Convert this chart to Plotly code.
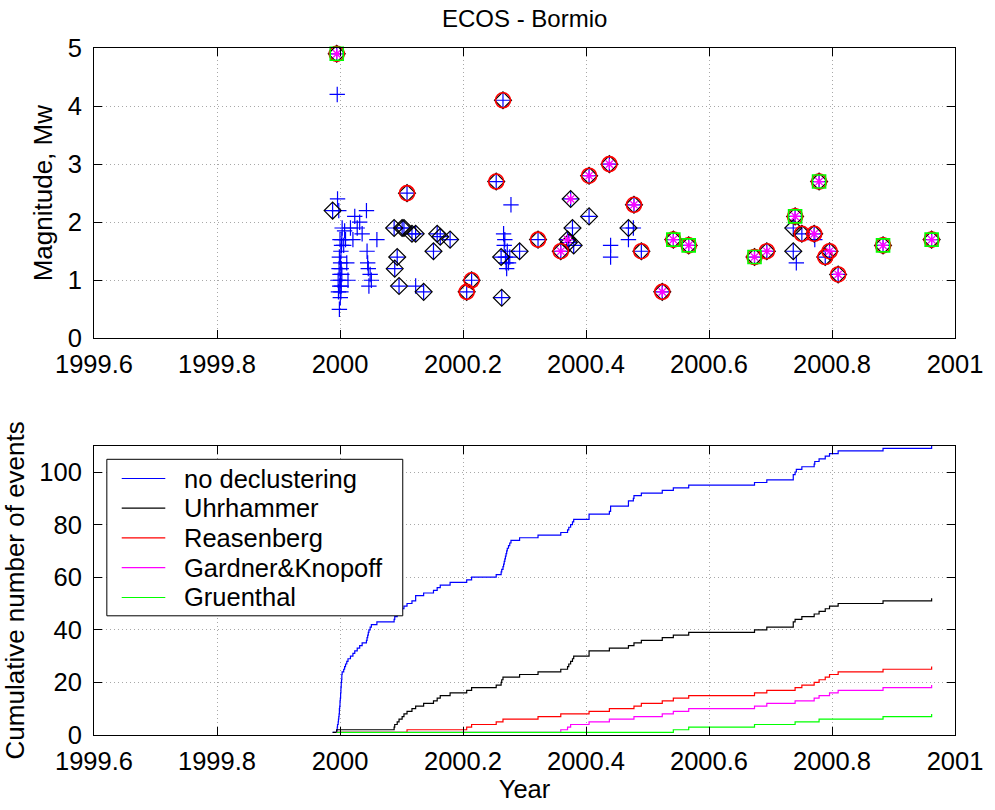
import plotly.graph_objects as go

# ---- earthquake catalogue (decimal year, moment magnitude) ----
year = [
    1999.988, 1999.9947, 1999.9955, 1999.996, 1999.997, 1999.9975, 1999.998, 1999.9985,
    1999.999, 1999.999, 1999.9995, 2000.000, 2000.000, 2000.0005, 2000.001, 2000.001,
    2000.0015, 2000.0015, 2000.002, 2000.002, 2000.0025, 2000.003, 2000.003, 2000.0035,
    2000.006, 2000.0075, 2000.009, 2000.011, 2000.013, 2000.017, 2000.021, 2000.024,
    2000.028, 2000.032, 2000.036, 2000.043, 2000.044, 2000.045, 2000.046, 2000.047,
    2000.049, 2000.051, 2000.060,
    2000.088, 2000.089, 2000.093, 2000.096, 2000.101, 2000.104, 2000.109, 2000.117,
    2000.123, 2000.123, 2000.136, 2000.152, 2000.158, 2000.163, 2000.179, 2000.206,
    2000.214, 2000.254, 2000.262, 2000.263, 2000.265,
    2000.266, 2000.267, 2000.268, 2000.269, 2000.270, 2000.271, 2000.272, 2000.274,
    2000.276, 2000.278,
    2000.292, 2000.322, 2000.359, 2000.370, 2000.372, 2000.375, 2000.378, 2000.380,
    2000.405, 2000.405, 2000.438, 2000.440, 2000.440, 2000.469, 2000.469, 2000.477,
    2000.478, 2000.490, 2000.524, 2000.542, 2000.567, 2000.674, 2000.694, 2000.737,
    2000.737, 2000.740, 2000.742, 2000.751, 2000.771, 2000.772, 2000.779, 2000.789,
    2000.796, 2000.810, 2000.883, 2000.962,
]
mag = [
    2.2, 4.9, 4.2, 2.4, 1.0, 0.8, 2.2, 1.2,
    0.5, 1.4, 0.9, 1.7, 1.1, 0.7, 1.3, 1.0,
    0.8, 1.5, 1.2, 0.9, 1.6, 1.1, 1.7, 1.9,
    1.6, 1.85, 1.7, 1.3, 1.0, 1.9, 1.7, 2.1,
    1.9, 2.0, 1.8, 2.2, 1.5, 1.3, 1.2, 0.9,
    1.1, 1.0, 1.7,
    1.9, 1.2, 1.4, 0.9, 1.9, 1.9, 2.5, 1.8,
    1.8, 0.9, 0.8, 1.5, 1.8, 1.75, 1.7, 0.8,
    1.0, 2.7, 1.4, 0.7, 4.1,
    1.8, 1.6, 1.7, 1.4, 1.3, 1.2, 1.5, 1.3,
    1.4, 2.3,
    1.5, 1.7, 1.5, 1.7, 1.65, 2.4, 1.9, 1.6,
    2.8, 2.1, 3.0, 1.6, 1.4, 1.9, 1.7, 1.9,
    2.3, 1.5, 0.8, 1.7, 1.6, 1.4, 1.5, 1.9,
    1.5, 2.1, 1.3, 1.8, 1.8, 1.7, 2.7, 1.4,
    1.5, 1.1, 1.6, 1.7,
]
# events retained by each declustering method:
# U = Uhrhammer, R = Reasenberg, G = Gardner&Knopoff, T = Gruenthal
kept = [
    "U", "URGT", "", "", "", "", "", "",
    "", "", "", "", "", "", "", "",
    "", "", "", "", "", "", "", "",
    "", "", "", "", "", "", "", "",
    "", "", "", "", "", "", "", "",
    "", "", "",
    "U", "U", "U", "U", "U", "U", "UR", "U",
    "U", "", "U", "U", "U", "U", "U", "UR",
    "UR", "UR", "U", "U", "UR",
    "", "", "", "", "", "", "", "",
    "", "",
    "U", "UR", "URG", "UG", "U", "UG", "U", "U",
    "URG", "U", "URG", "", "", "U", "", "",
    "URG", "UR", "URG", "URGT", "URGT", "URGT", "URG", "U",
    "U", "URGT", "", "UR", "URG", "", "URGT", "UR",
    "URG", "URG", "URGT", "URGT",
]

method_names = ["no declustering", "Uhrhammer", "Reasenberg", "Gardner&Knopoff", "Gruenthal"]
method_codes = ["", "U", "R", "G", "T"]
method_colors = ["#0000ff", "#000000", "#ff0000", "#ff00ff", "#00ff00"]
marker_symbols = ["cross-thin-open", "diamond-open", "circle-open", "asterisk-open", "square-open"]
marker_sizes = [11, 13, 15, 8.5, 13]
marker_widths = [1.2, 1.2, 1.6, 1.3, 1.6]

x_ticks = [1999.6, 1999.8, 2000.0, 2000.2, 2000.4, 2000.6, 2000.8, 2001.0]
x_tick_text = ["1999.6", "1999.8", "2000", "2000.2", "2000.4", "2000.6", "2000.8", "2001"]

FONT = "Liberation Sans, Arial, sans-serif"
FS = 25.5
FS_YTITLE = 26
FS_TITLE = 24

fig = go.Figure()


def subset(code):
    idx = [i for i in range(len(year)) if code in kept[i]]
    return [year[i] for i in idx], [mag[i] for i in idx]


# top panel: magnitude vs time, one marker style per catalogue
for code, col, sym, sz, lw in zip(method_codes, method_colors, marker_symbols,
                                  marker_sizes, marker_widths):
    xs, ys = subset(code)
    fig.add_trace(go.Scatter(
        x=xs, y=ys, mode="markers", xaxis="x", yaxis="y", showlegend=False,
        cliponaxis=False,
        marker=dict(symbol=sym, size=sz, color=col, line=dict(color=col, width=lw)),
    ))

# bottom panel: cumulative number of events (staircase)
for name, code, col in zip(method_names, method_codes, method_colors):
    xs, _ = subset(code)
    xs = sorted(xs)
    fig.add_trace(go.Scatter(
        x=xs, y=list(range(1, len(xs) + 1)), mode="lines", line_shape="hv",
        xaxis="x2", yaxis="y2", name=name, showlegend=False,
        line=dict(color=col, width=1.2),
    ))

grid_style = dict(showgrid=True, gridcolor="#a8a8a8", griddash="1px,3px", gridwidth=1)
axis_common = dict(
    range=[1999.6, 2001.0], tickvals=x_ticks, ticktext=x_tick_text,
    showline=True, linecolor="#000000", linewidth=1, mirror="ticks",
    ticks="inside", ticklen=8, tickwidth=1, tickcolor="#000000",
    zeroline=False, tickfont=dict(family=FONT, size=FS, color="#000000"),
    ticklabelstandoff=3, **grid_style,
)
yaxis_common = dict(
    showline=True, linecolor="#000000", linewidth=1, mirror="ticks",
    ticks="inside", ticklen=8, tickwidth=1, tickcolor="#000000",
    zeroline=False, tickfont=dict(family=FONT, size=FS, color="#000000"),
    ticklabelstandoff=6, **grid_style,
)

fig.update_layout(
    width=995, height=810,
    margin=dict(l=94, r=31, t=48, b=71),
    paper_bgcolor="#ffffff", plot_bgcolor="#ffffff",
    font=dict(family=FONT, size=FS, color="#000000"),
    xaxis=dict(domain=[0, 1], anchor="y", **axis_common),
    yaxis=dict(domain=[0.5774, 1], anchor="x", range=[0, 5], dtick=1,
               title=dict(text="Magnitude, Mw", font=dict(family=FONT, size=FS_YTITLE), standoff=7),
               **yaxis_common),
    xaxis2=dict(domain=[0, 1], anchor="y2",
                title=dict(text="Year", font=dict(family=FONT, size=FS), standoff=6),
                **axis_common),
    yaxis2=dict(domain=[0, 0.4211], anchor="x2", range=[0, 110], tickvals=[0, 20, 40, 60, 80, 100],
                title=dict(text="Cumulative number of events", font=dict(family=FONT, size=FS_YTITLE),
                           standoff=7),
                **yaxis_common),
)

fig.add_annotation(
    text="ECOS - Bormio", xref="paper", yref="paper", x=0.5, y=1.0434,
    xanchor="center", yanchor="middle", showarrow=False,
    font=dict(family=FONT, size=FS_TITLE, color="#000000"),
)

# legend box drawn in the lower panel's domain coordinates
box_x0, box_x1, box_y0, box_y1 = 0.0149, 0.3586, 0.412, 0.953
fig.add_shape(type="rect", xref="x2 domain", yref="y2 domain",
              x0=box_x0, x1=box_x1, y0=box_y0, y1=box_y1,
              line=dict(color="#000000", width=1), fillcolor="#ffffff", layer="above")
row_y = [0.8866, 0.7845, 0.6814, 0.5784, 0.4753]
for name, col, ry in zip(method_names, method_colors, row_y):
    fig.add_shape(type="line", xref="x2 domain", yref="y2 domain",
                  x0=0.0322, x1=0.0828, y0=ry, y1=ry,
                  line=dict(color=col, width=1.2), layer="above")
    fig.add_annotation(text=name, xref="x2 domain", yref="y2 domain",
                       x=0.1023, y=ry, xanchor="left", yanchor="middle",
                       showarrow=False, font=dict(family=FONT, size=FS, color="#000000"))

fig.write_html("out.html")
